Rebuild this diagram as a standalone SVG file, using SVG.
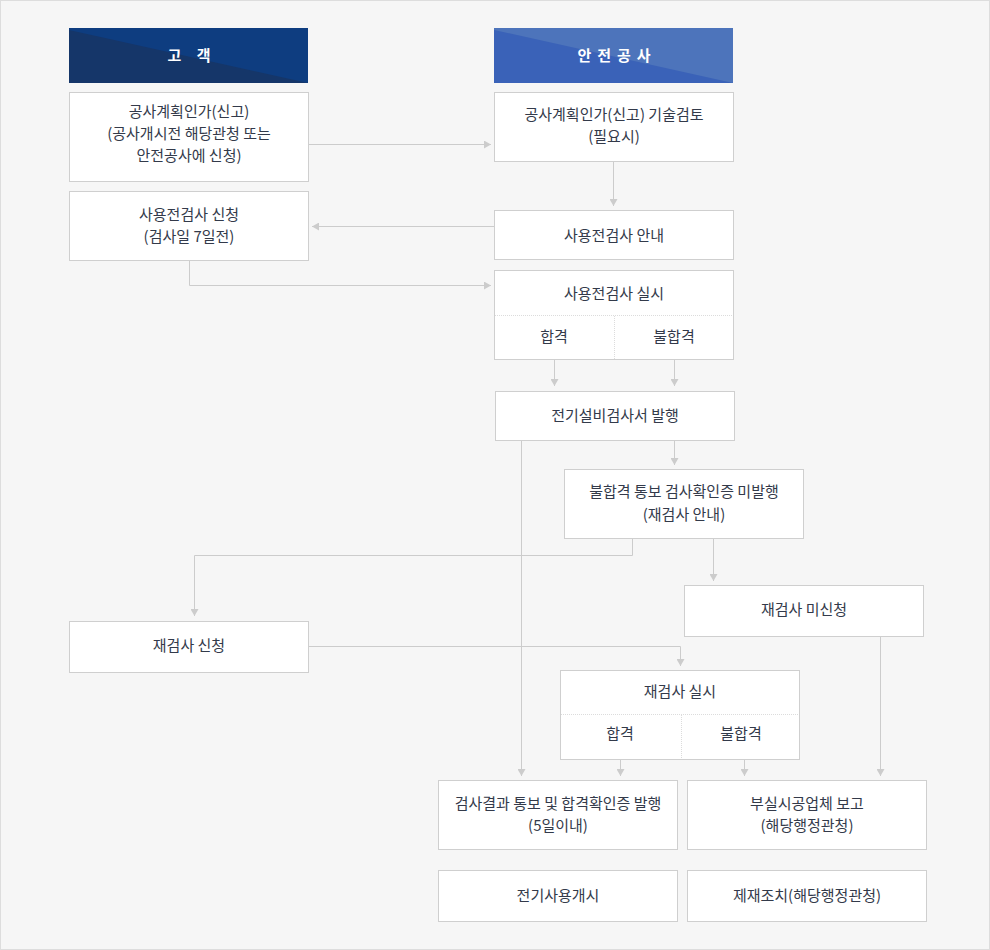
<svg xmlns="http://www.w3.org/2000/svg" width="990" height="950" viewBox="0 0 990 950">
<defs>
<style>
.box{fill:#fff;stroke:#cfcfcf;stroke-width:1}
.t{font-family:"Noto Sans CJK KR","Noto Sans",sans-serif;font-size:15px;fill:#333a4a;text-anchor:middle}
.h{font-family:"Noto Sans CJK KR","Noto Sans",sans-serif;font-size:15px;font-weight:bold;fill:#fff;text-anchor:middle;letter-spacing:6px}
.div{stroke:#dcdcdc;stroke-width:1;stroke-dasharray:1 1;fill:none}
.c{stroke:#cccccc;stroke-width:1;fill:none;marker-end:url(#ar)}
</style>
<marker id="ar" markerUnits="userSpaceOnUse" markerWidth="8" markerHeight="8" refX="7" refY="4" orient="auto">
<path d="M0,0 L7,4 L0,8 Z" fill="#cccccc"/>
</marker>
</defs>
<rect x="0.5" y="0.5" width="989" height="949" fill="#f6f6f6" stroke="#dddddd"/>

<g id="header-customer">
<rect x="69" y="28" width="239" height="55" fill="#0e3d80"/>
<polygon points="69,30 308,83 69,83" fill="#153669"/>
<text class="h" x="192" y="61">고 객</text>
</g>
<g id="header-kesco">
<rect x="494" y="28" width="239" height="55" fill="#4d74bb"/>
<polygon points="494,30 733,83 494,83" fill="#3a62b8"/>
<text class="h" x="617" y="61">안전공사</text>
</g>

<g id="a1">
<rect class="box" x="69.5" y="92.5" width="239" height="89"/>
<text class="t" x="189" y="117">공사계획인가(신고)</text>
<text class="t" x="189" y="139">(공사개시전 해당관청 또는</text>
<text class="t" x="189" y="161">안전공사에 신청)</text>
</g>
<g id="a2">
<rect class="box" x="69.5" y="191.5" width="239" height="69"/>
<text class="t" x="189" y="220">사용전검사 신청</text>
<text class="t" x="189" y="242">(검사일 7일전)</text>
</g>
<g id="b1">
<rect class="box" x="494.5" y="92.5" width="239" height="69"/>
<text class="t" x="614" y="120">공사계획인가(신고) 기술검토</text>
<text class="t" x="614" y="142">(필요시)</text>
</g>
<g id="b2">
<rect class="box" x="494.5" y="210.5" width="239" height="49"/>
<text class="t" x="614" y="241">사용전검사 안내</text>
</g>
<g id="b3">
<rect class="box" x="494.5" y="270.5" width="239" height="89"/>
<line class="div" x1="495" y1="315.5" x2="733" y2="315.5"/>
<line class="div" x1="614.5" y1="316" x2="614.5" y2="359"/>
<text class="t" x="614" y="299">사용전검사 실시</text>
<text class="t" x="554" y="342">합격</text>
<text class="t" x="674" y="342">불합격</text>
</g>
<g id="b4">
<rect class="box" x="495.5" y="391.5" width="239" height="49"/>
<text class="t" x="615" y="421">전기설비검사서 발행</text>
</g>
<g id="b5">
<rect class="box" x="564.5" y="469.5" width="239" height="69"/>
<text class="t" x="684" y="497">불합격 통보 검사확인증 미발행</text>
<text class="t" x="684" y="520">(재검사 안내)</text>
</g>
<g id="c1">
<rect class="box" x="684.5" y="585.5" width="239" height="51"/>
<text class="t" x="804" y="615">재검사 미신청</text>
</g>
<g id="l1">
<rect class="box" x="69.5" y="621.5" width="239" height="51"/>
<text class="t" x="189" y="651">재검사 신청</text>
</g>
<g id="r1">
<rect class="box" x="560.5" y="670.5" width="239" height="89"/>
<line class="div" x1="561" y1="714.5" x2="799" y2="714.5"/>
<line class="div" x1="681.5" y1="715" x2="681.5" y2="759"/>
<text class="t" x="680" y="697">재검사 실시</text>
<text class="t" x="620" y="739">합격</text>
<text class="t" x="741" y="739">불합격</text>
</g>
<g id="d1">
<rect class="box" x="438.5" y="780.5" width="239" height="69"/>
<text class="t" x="558" y="809">검사결과 통보 및 합격확인증 발행</text>
<text class="t" x="558" y="831">(5일이내)</text>
</g>
<g id="d2">
<rect class="box" x="687.5" y="780.5" width="239" height="69"/>
<text class="t" x="807" y="809">부실시공업체 보고</text>
<text class="t" x="807" y="831">(해당행정관청)</text>
</g>
<g id="e1">
<rect class="box" x="438.5" y="870.5" width="239" height="51"/>
<text class="t" x="558" y="901">전기사용개시</text>
</g>
<g id="e2">
<rect class="box" x="687.5" y="870.5" width="239" height="51"/>
<text class="t" x="807" y="901">제재조치(해당행정관청)</text>
</g>

<g id="connectors">
<path class="c" d="M309,144.5 H491"/>
<path class="c" d="M613.5,162 V206"/>
<path class="c" d="M494,226.5 H312"/>
<path class="c" d="M189.5,261 V285.5 H491"/>
<path class="c" d="M554.5,360 V386"/>
<path class="c" d="M674.5,360 V386"/>
<path class="c" d="M521.5,441 V776"/>
<path class="c" d="M674.5,441 V465"/>
<path class="c" d="M632.5,539 V555.5 H194.5 V616"/>
<path class="c" d="M713.5,539 V581"/>
<path class="c" d="M309,646.5 H680.5 V666"/>
<path class="c" d="M620.5,760 V776"/>
<path class="c" d="M744.5,760 V776"/>
<path class="c" d="M880.5,637 V776"/>
</g>
</svg>
